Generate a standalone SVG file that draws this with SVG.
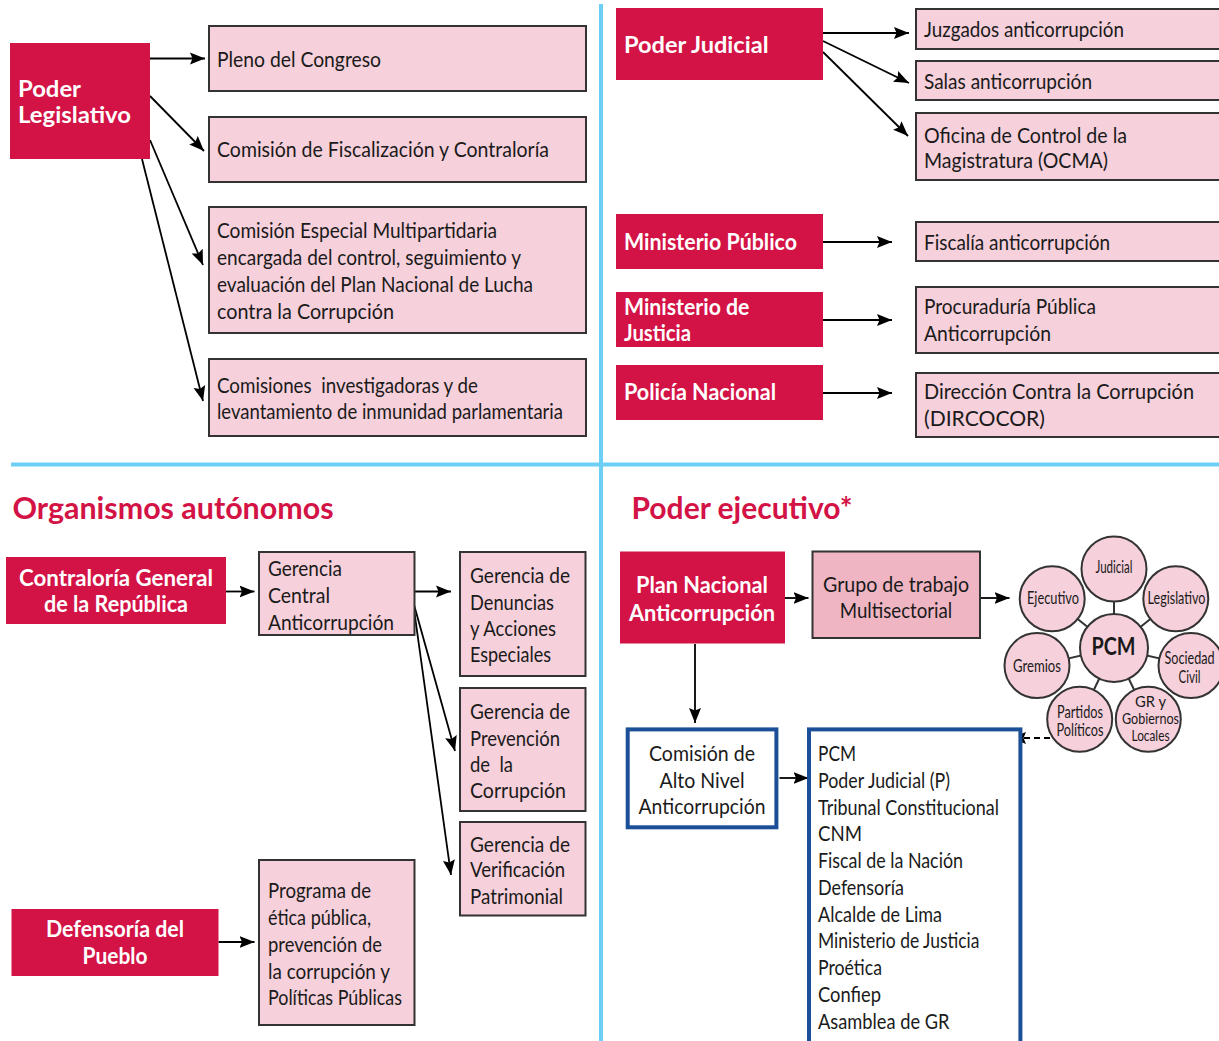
<svg xmlns="http://www.w3.org/2000/svg" width="1219" height="1041" viewBox="0 0 1219 1041">
<style>
.red{fill:#d31245}
.pink{fill:#f6d0da;stroke:#333;stroke-width:2}
.grp{fill:#efb5c3;stroke:#333;stroke-width:2}
.blue{fill:#fff;stroke:#1b4f98;stroke-width:4}
.circ{fill:#f6d0da;stroke:#333;stroke-width:2}
.sep{stroke:#6dcff6;stroke-width:4;fill:none}
.t{font-family:Lato,"Liberation Sans",sans-serif;font-size:21px;fill:#1a1a1a}
.s{font-family:Lato,"Liberation Sans",sans-serif;font-size:17px;fill:#1a1a1a;text-anchor:middle}
.s3{font-size:15.5px}
.w{font-family:Lato,"Liberation Sans",sans-serif;font-weight:bold;font-size:23px;fill:#fff}
.h{font-family:Lato,"Liberation Sans",sans-serif;font-weight:bold;font-size:30px;fill:#d31245}
.c{text-anchor:middle}
.conn{stroke:#000;stroke-width:1.8;fill:none;marker-end:url(#ah)}
.dash{stroke-dasharray:6,4}
.spoke{stroke:#333;stroke-width:2}
</style>
<defs>
<marker id="ah" markerUnits="userSpaceOnUse" markerWidth="16" markerHeight="14" viewBox="0 0 16 14" refX="15" refY="7" orient="auto">
<path d="M0,1 L15,7 L0,13 L2.5,7 Z" fill="#000"/>
</marker>
</defs>
<rect width="1219" height="1041" fill="#fff"/>
<g id="separators">
<line class="sep" x1="601" y1="4" x2="601" y2="1041"/>
<line class="sep" x1="11" y1="464.5" x2="1219" y2="464.5"/>
</g>
<g id="titles">
<text class="h" x="12.5" y="519" textLength="321" lengthAdjust="spacingAndGlyphs">Organismos autónomos</text>
<text class="h" x="631.5" y="519" textLength="221" lengthAdjust="spacingAndGlyphs">Poder ejecutivo*</text>
</g>
<g id="connectors">
<line class="conn" x1="150" y1="58.5" x2="205" y2="58.5"/>
<line class="conn" x1="150" y1="96" x2="204" y2="151"/>
<line class="conn" x1="150" y1="140" x2="203" y2="265"/>
<line class="conn" x1="142" y1="159" x2="203" y2="401"/>
<line class="conn" x1="823" y1="33" x2="909" y2="33"/>
<line class="conn" x1="823" y1="41" x2="909" y2="83"/>
<line class="conn" x1="823" y1="52" x2="908" y2="136"/>
<line class="conn" x1="823" y1="242" x2="892" y2="242"/>
<line class="conn" x1="823" y1="320" x2="892" y2="320"/>
<line class="conn" x1="823" y1="393" x2="892" y2="393"/>
<line class="conn" x1="226" y1="591.5" x2="254.5" y2="591.5"/>
<line class="conn" x1="414.5" y1="591.5" x2="451" y2="591.5"/>
<line class="conn" x1="413.5" y1="603" x2="455" y2="751"/>
<line class="conn" x1="414.5" y1="613" x2="451" y2="875"/>
<line class="conn" x1="218.5" y1="942" x2="254.5" y2="942"/>
<line class="conn" x1="785" y1="598" x2="808.5" y2="598"/>
<line class="conn" x1="980" y1="598" x2="1009.5" y2="598"/>
<line class="conn" x1="695" y1="644" x2="695" y2="723"/>
<line class="conn" x1="779.5" y1="778" x2="808.5" y2="778"/>
<line class="conn dash" x1="1050" y1="738" x2="1011" y2="738"/>
</g>
<g id="poder-legislativo">
<rect class="red" x="10" y="43" width="140" height="116"/>
<text class="w" x="18" y="97" textLength="63" lengthAdjust="spacingAndGlyphs">Poder</text>
<text class="w" x="18" y="123" textLength="113" lengthAdjust="spacingAndGlyphs">Legislativo</text>
</g>
<g id="pleno">
<rect class="pink" x="209" y="26" width="377" height="65"/>
<text class="t" x="217" y="67" textLength="164" lengthAdjust="spacingAndGlyphs">Pleno del Congreso</text>
</g>
<g id="fiscalizacion">
<rect class="pink" x="209" y="117" width="377" height="65"/>
<text class="t" x="217" y="157" textLength="332" lengthAdjust="spacingAndGlyphs">Comisión de Fiscalización y Contraloría</text>
</g>
<g id="especial">
<rect class="pink" x="209" y="207" width="377" height="126"/>
<text class="t" x="217" y="238" textLength="280" lengthAdjust="spacingAndGlyphs">Comisión Especial Multipartidaria</text>
<text class="t" x="217" y="265" textLength="304" lengthAdjust="spacingAndGlyphs">encargada del control, seguimiento y</text>
<text class="t" x="217" y="292" textLength="316" lengthAdjust="spacingAndGlyphs">evaluación del Plan Nacional de Lucha</text>
<text class="t" x="217" y="319" textLength="177" lengthAdjust="spacingAndGlyphs">contra la Corrupción</text>
</g>
<g id="investigadoras">
<rect class="pink" x="209" y="359" width="377" height="77"/>
<text class="t" x="217" y="393" textLength="261" lengthAdjust="spacingAndGlyphs" xml:space="preserve">Comisiones  investigadoras y de</text>
<text class="t" x="217" y="419" textLength="346" lengthAdjust="spacingAndGlyphs">levantamiento de inmunidad parlamentaria</text>
</g>
<g id="poder-judicial">
<rect class="red" x="616" y="8" width="207" height="72"/>
<text class="w" x="624" y="53" textLength="144.5" lengthAdjust="spacingAndGlyphs">Poder Judicial</text>
</g>
<g id="juzgados">
<rect class="pink" x="916" y="9" width="310" height="40"/>
<text class="t" x="924" y="37" textLength="200" lengthAdjust="spacingAndGlyphs">Juzgados anticorrupción</text>
</g>
<g id="salas">
<rect class="pink" x="916" y="61" width="310" height="39"/>
<text class="t" x="924" y="89" textLength="168" lengthAdjust="spacingAndGlyphs">Salas anticorrupción</text>
</g>
<g id="ocma">
<rect class="pink" x="916" y="113" width="310" height="67"/>
<text class="t" x="924" y="143" textLength="203" lengthAdjust="spacingAndGlyphs">Oficina de Control de la</text>
<text class="t" x="924" y="168" textLength="184" lengthAdjust="spacingAndGlyphs">Magistratura (OCMA)</text>
</g>
<g id="ministerio-publico">
<rect class="red" x="616" y="214" width="207" height="55"/>
<text class="w" x="624" y="250" textLength="173" lengthAdjust="spacingAndGlyphs">Ministerio Público</text>
</g>
<g id="fiscalia">
<rect class="pink" x="916" y="222" width="310" height="39"/>
<text class="t" x="924" y="250" textLength="186" lengthAdjust="spacingAndGlyphs">Fiscalía anticorrupción</text>
</g>
<g id="ministerio-justicia">
<rect class="red" x="616" y="292" width="207" height="55"/>
<text class="w" x="624" y="315" textLength="125.5" lengthAdjust="spacingAndGlyphs">Ministerio de</text>
<text class="w" x="624" y="340.5" textLength="67" lengthAdjust="spacingAndGlyphs">Justicia</text>
</g>
<g id="procuraduria">
<rect class="pink" x="916" y="287" width="310" height="66"/>
<text class="t" x="924" y="314" textLength="172" lengthAdjust="spacingAndGlyphs">Procuraduría Pública</text>
<text class="t" x="924" y="341" textLength="127" lengthAdjust="spacingAndGlyphs">Anticorrupción</text>
</g>
<g id="policia">
<rect class="red" x="616" y="365" width="207" height="55"/>
<text class="w" x="624" y="400" textLength="152" lengthAdjust="spacingAndGlyphs">Policía Nacional</text>
</g>
<g id="dircocor">
<rect class="pink" x="916" y="373" width="310" height="64"/>
<text class="t" x="924" y="399" textLength="270" lengthAdjust="spacingAndGlyphs">Dirección Contra la Corrupción</text>
<text class="t" x="924" y="426" textLength="121" lengthAdjust="spacingAndGlyphs">(DIRCOCOR)</text>
</g>
<g id="contraloria">
<rect class="red" x="6" y="557" width="220" height="67"/>
<text class="w c" x="116" y="586" textLength="194" lengthAdjust="spacingAndGlyphs">Contraloría General</text>
<text class="w c" x="116" y="612" textLength="144" lengthAdjust="spacingAndGlyphs">de la República</text>
</g>
<g id="gerencia-central">
<rect class="pink" x="259" y="552" width="155.5" height="83"/>
<text class="t" x="268" y="576" textLength="74" lengthAdjust="spacingAndGlyphs">Gerencia</text>
<text class="t" x="268" y="603" textLength="62" lengthAdjust="spacingAndGlyphs">Central</text>
<text class="t" x="268" y="630" textLength="126" lengthAdjust="spacingAndGlyphs">Anticorrupción</text>
</g>
<g id="gerencia-denuncias">
<rect class="pink" x="460" y="552" width="125.5" height="124"/>
<text class="t" x="470" y="583" textLength="100" lengthAdjust="spacingAndGlyphs">Gerencia de</text>
<text class="t" x="470" y="610" textLength="84" lengthAdjust="spacingAndGlyphs">Denuncias</text>
<text class="t" x="470" y="636" textLength="86" lengthAdjust="spacingAndGlyphs">y Acciones</text>
<text class="t" x="470" y="662" textLength="81" lengthAdjust="spacingAndGlyphs">Especiales</text>
</g>
<g id="gerencia-prevencion">
<rect class="pink" x="460" y="688" width="125.5" height="123"/>
<text class="t" x="470" y="719" textLength="100" lengthAdjust="spacingAndGlyphs">Gerencia de</text>
<text class="t" x="470" y="746" textLength="90" lengthAdjust="spacingAndGlyphs">Prevención</text>
<text class="t" x="470" y="772" textLength="43" lengthAdjust="spacingAndGlyphs" xml:space="preserve">de  la</text>
<text class="t" x="470" y="798" textLength="96" lengthAdjust="spacingAndGlyphs">Corrupción</text>
</g>
<g id="gerencia-verificacion">
<rect class="pink" x="460" y="822" width="125.5" height="93.5"/>
<text class="t" x="470" y="851.5" textLength="100" lengthAdjust="spacingAndGlyphs">Gerencia de</text>
<text class="t" x="470" y="877" textLength="95" lengthAdjust="spacingAndGlyphs">Verificación</text>
<text class="t" x="470" y="903.5" textLength="93" lengthAdjust="spacingAndGlyphs">Patrimonial</text>
</g>
<g id="defensoria">
<rect class="red" x="11.5" y="909" width="207" height="67"/>
<text class="w c" x="115" y="937" textLength="138" lengthAdjust="spacingAndGlyphs">Defensoría del</text>
<text class="w c" x="115" y="963.5" textLength="65" lengthAdjust="spacingAndGlyphs">Pueblo</text>
</g>
<g id="programa">
<rect class="pink" x="259" y="860" width="155.5" height="165"/>
<text class="t" x="268" y="898" textLength="103" lengthAdjust="spacingAndGlyphs">Programa de</text>
<text class="t" x="268" y="925" textLength="103" lengthAdjust="spacingAndGlyphs">ética pública,</text>
<text class="t" x="268" y="951.5" textLength="114" lengthAdjust="spacingAndGlyphs">prevención de</text>
<text class="t" x="268" y="978.5" textLength="122" lengthAdjust="spacingAndGlyphs">la corrupción y</text>
<text class="t" x="268" y="1004.5" textLength="134" lengthAdjust="spacingAndGlyphs">Políticas Públicas</text>
</g>
<g id="plan-nacional">
<rect class="red" x="620" y="551.5" width="165" height="92"/>
<text class="w c" x="702" y="593" textLength="132" lengthAdjust="spacingAndGlyphs">Plan Nacional</text>
<text class="w c" x="702" y="620.5" textLength="146" lengthAdjust="spacingAndGlyphs">Anticorrupción</text>
</g>
<g id="grupo-trabajo">
<rect class="grp" x="812.5" y="551.5" width="167.5" height="86.5"/>
<text class="t c" x="896" y="591.5" textLength="146" lengthAdjust="spacingAndGlyphs">Grupo de trabajo</text>
<text class="t c" x="896" y="617.5" textLength="112.5" lengthAdjust="spacingAndGlyphs">Multisectorial</text>
</g>
<g id="pcm-cluster">
<line class="spoke" x1="1114" y1="648" x2="1114" y2="569"/>
<line class="spoke" x1="1114" y1="648" x2="1175.8" y2="598.7"/>
<line class="spoke" x1="1114" y1="648" x2="1191" y2="665.6"/>
<line class="spoke" x1="1114" y1="648" x2="1148.3" y2="719.2"/>
<line class="spoke" x1="1114" y1="648" x2="1079.7" y2="719.2"/>
<line class="spoke" x1="1114" y1="648" x2="1037" y2="665.6"/>
<line class="spoke" x1="1114" y1="648" x2="1052.2" y2="598.7"/>
<g id="c-judicial"><circle class="circ" cx="1114" cy="569" r="32.5"/><text class="s" x="1114" y="573" textLength="37" lengthAdjust="spacingAndGlyphs">Judicial</text></g>
<g id="c-legislativo"><circle class="circ" cx="1175.8" cy="598.7" r="32.5"/><text class="s" x="1176.5" y="603.5" textLength="58" lengthAdjust="spacingAndGlyphs">Legislativo</text></g>
<g id="c-sociedad"><circle class="circ" cx="1191" cy="665.6" r="32.5"/><text class="s" x="1189.5" y="664" textLength="50" lengthAdjust="spacingAndGlyphs">Sociedad</text><text class="s" x="1189.5" y="683" textLength="22" lengthAdjust="spacingAndGlyphs">Civil</text></g>
<g id="c-gr"><circle class="circ" cx="1148.3" cy="719.2" r="32.5"/><text class="s s3" x="1150.5" y="707" textLength="31" lengthAdjust="spacingAndGlyphs">GR y</text><text class="s s3" x="1150.5" y="723.5" textLength="57" lengthAdjust="spacingAndGlyphs">Gobiernos</text><text class="s s3" x="1150.5" y="740.5" textLength="38" lengthAdjust="spacingAndGlyphs">Locales</text></g>
<g id="c-partidos"><circle class="circ" cx="1079.7" cy="719.2" r="32.5"/><text class="s" x="1080" y="717.5" textLength="46" lengthAdjust="spacingAndGlyphs">Partidos</text><text class="s" x="1080" y="736" textLength="47" lengthAdjust="spacingAndGlyphs">Políticos</text></g>
<g id="c-gremios"><circle class="circ" cx="1037" cy="665.6" r="32.5"/><text class="s" x="1037" y="672" textLength="48" lengthAdjust="spacingAndGlyphs">Gremios</text></g>
<g id="c-ejecutivo"><circle class="circ" cx="1052.2" cy="598.7" r="32.5"/><text class="s" x="1053" y="603.5" textLength="52" lengthAdjust="spacingAndGlyphs">Ejecutivo</text></g>
<g id="c-pcm"><circle class="circ" cx="1114" cy="648" r="34"/><text class="s" x="1113.5" y="655" style="font-weight:bold;font-size:24px" textLength="44" lengthAdjust="spacingAndGlyphs">PCM</text></g>
</g>
<g id="comision-alto-nivel">
<rect class="blue" x="627.7" y="729.4" width="148.7" height="97.9"/>
<text class="t c" x="702" y="760.5" textLength="106" lengthAdjust="spacingAndGlyphs">Comisión de</text>
<text class="t c" x="702" y="787.5" textLength="85" lengthAdjust="spacingAndGlyphs">Alto Nivel</text>
<text class="t c" x="702" y="813.5" textLength="127" lengthAdjust="spacingAndGlyphs">Anticorrupción</text>
</g>
<g id="miembros">
<rect class="blue" x="809" y="729.4" width="211.4" height="400"/>
<text class="t" x="818" y="761" textLength="38" lengthAdjust="spacingAndGlyphs">PCM</text>
<text class="t" x="818" y="787.8" textLength="132" lengthAdjust="spacingAndGlyphs">Poder Judicial (P)</text>
<text class="t" x="818" y="814.5" textLength="181" lengthAdjust="spacingAndGlyphs">Tribunal Constitucional</text>
<text class="t" x="818" y="841.3" textLength="44" lengthAdjust="spacingAndGlyphs">CNM</text>
<text class="t" x="818" y="868" textLength="145" lengthAdjust="spacingAndGlyphs">Fiscal de la Nación</text>
<text class="t" x="818" y="894.8" textLength="86" lengthAdjust="spacingAndGlyphs">Defensoría</text>
<text class="t" x="818" y="921.5" textLength="124" lengthAdjust="spacingAndGlyphs">Alcalde de Lima</text>
<text class="t" x="818" y="948.3" textLength="161.5" lengthAdjust="spacingAndGlyphs">Ministerio de Justicia</text>
<text class="t" x="818" y="975" textLength="64" lengthAdjust="spacingAndGlyphs">Proética</text>
<text class="t" x="818" y="1001.8" textLength="63" lengthAdjust="spacingAndGlyphs">Confiep</text>
<text class="t" x="818" y="1028.5" textLength="131.5" lengthAdjust="spacingAndGlyphs">Asamblea de GR</text>
</g>
</svg>
